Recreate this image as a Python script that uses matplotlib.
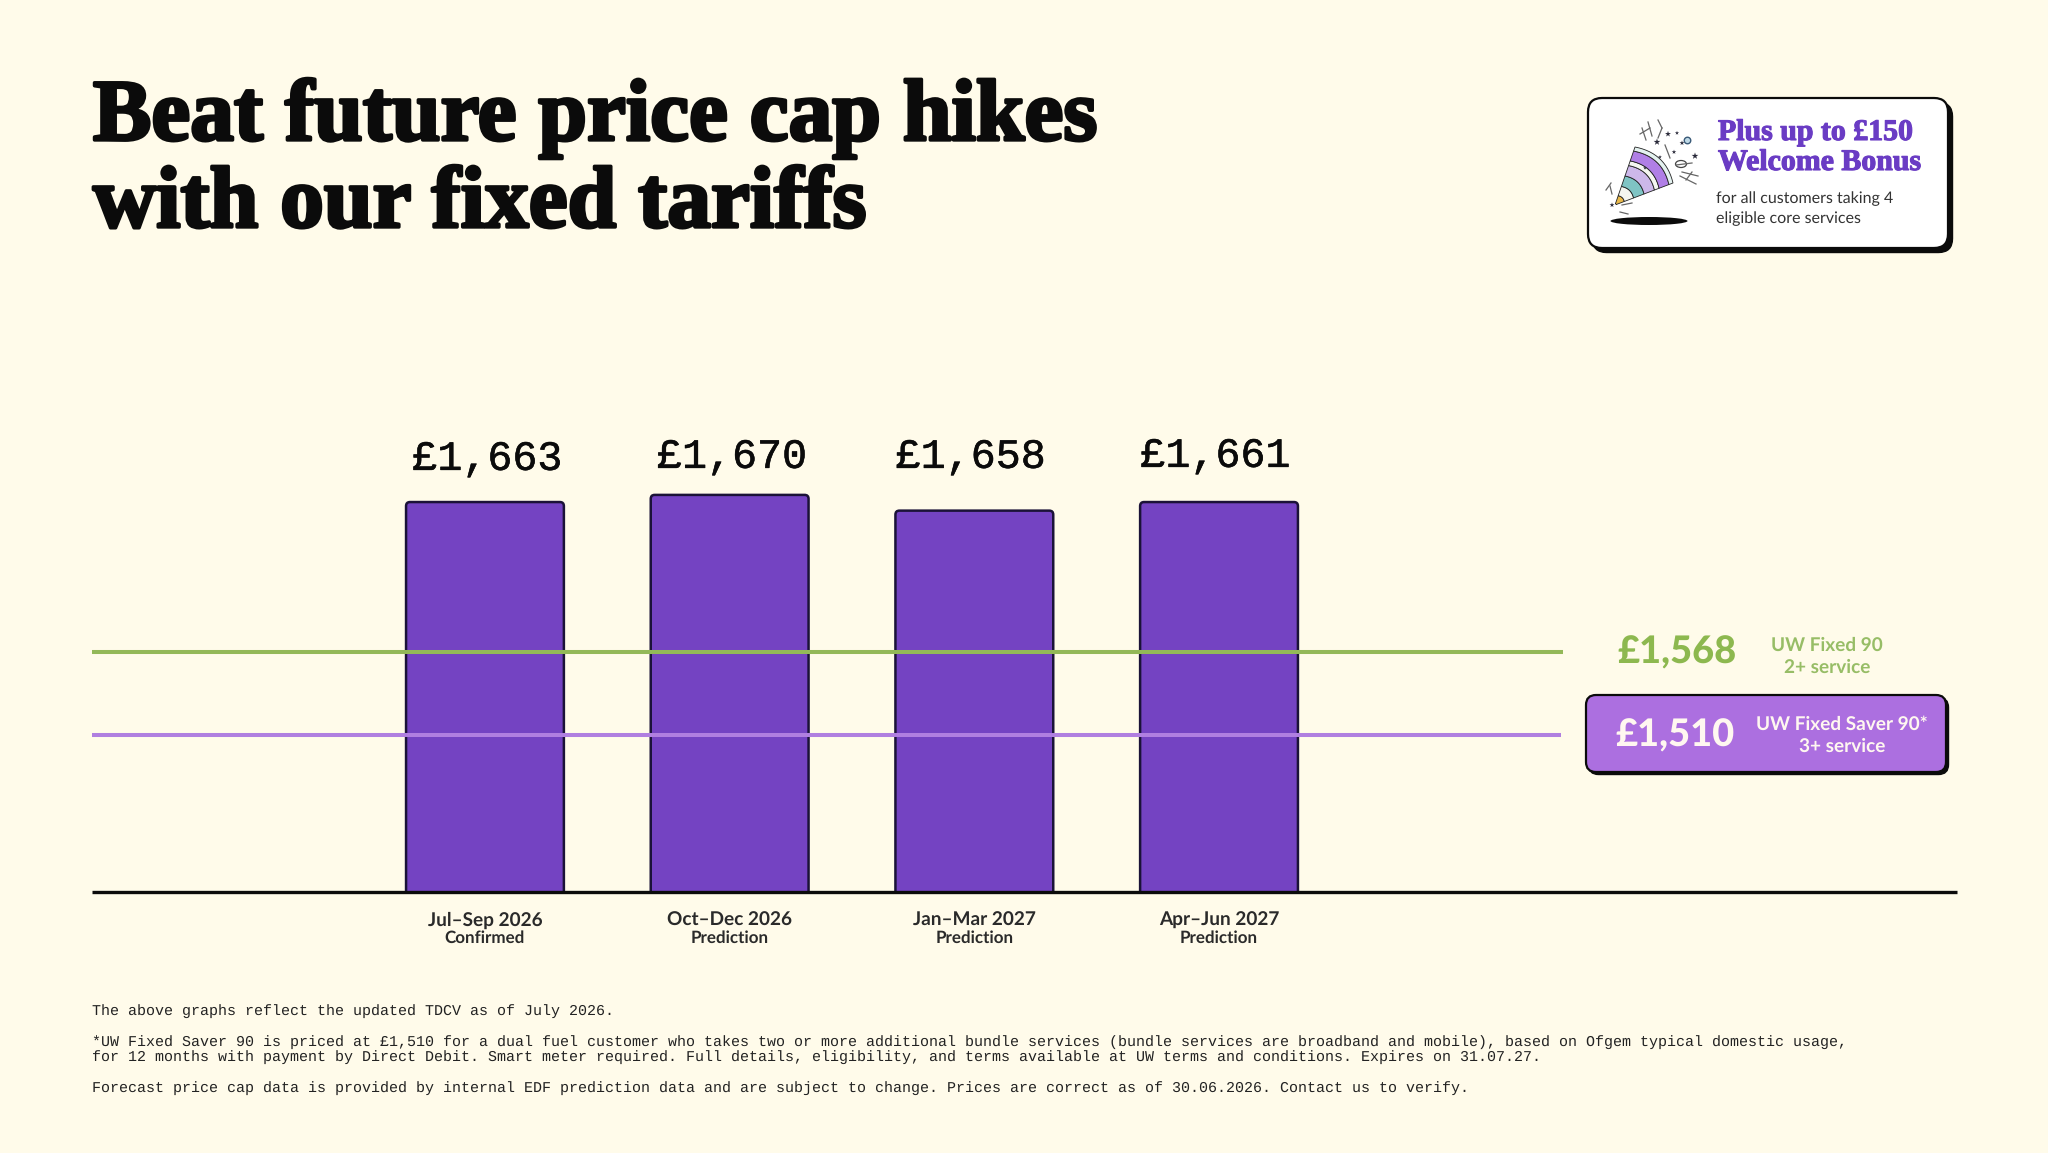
import matplotlib
matplotlib.use('Agg')
import matplotlib.pyplot as plt
import matplotlib.patheffects as pe
from matplotlib.patches import FancyBboxPatch, Ellipse, Polygon
import numpy as np

plt.rcParams['text.hinting'] = 'no_hinting'
plt.rcParams['text.hinting_factor'] = 1

# chart values
periods = ['Jul–Sep 2026', 'Oct–Dec 2026', 'Jan–Mar 2027', 'Apr–Jun 2027']
statuses = ['Confirmed', 'Prediction', 'Prediction', 'Prediction']
price_labels = ['£1,663', '£1,670', '£1,658', '£1,661']
# bar tops as drawn in the picture, the bars are not quite to scale with their labels
drawn_heights = [1672.5, 1677.5, 1666.5, 1672.5]
fixed_90 = 1568
fixed_saver_90 = 1510

BG = '#FFFBEA'
PURPLE = '#7443C2'
LILAC = '#AC6FE0'
GREEN = '#8DB84F'
INK = '#0B0B0B'

W, H = 2048, 1153
SANS = 'Lato'
MONO = 'Liberation Mono'
DISPLAY = 'Liberation Serif'

fig = plt.figure(figsize=(W / 100, H / 100), dpi=100, facecolor=BG)

# overlay in pixels for the title, cards and footnotes
page = fig.add_axes([0, 0, 1, 1], zorder=3)
page.set_xlim(0, W)
page.set_ylim(H, 0)
page.axis('off')

# chart axes, baseline at y=892px
ax = fig.add_axes([92 / W, (H - 892) / H, (1957 - 92) / W, 492 / H], zorder=1)
ax.patch.set_alpha(0)
ax.set_xlim(-1.606, 6.016)
ymin = 1400
ax.set_ylim(ymin, ymin + 492 / 1.431)
for s in ['top', 'left', 'right']:
    ax.spines[s].set_visible(False)
ax.spines['bottom'].set_linewidth(2.4)
ax.spines['bottom'].set_color(INK)
ax.spines['bottom'].set_capstyle('butt')
ax.spines['bottom'].set_zorder(5)
ax.set_yticks([])

x = list(range(len(periods)))
bars = ax.bar(x, drawn_heights, width=0.645, color=PURPLE, zorder=2)
# swap the square bars for slightly rounded ones
for r in bars:
    r.set_visible(False)
    ax.add_patch(FancyBboxPatch((r.get_x(), ymin - 10), r.get_width(), r.get_height() - ymin + 10,
                                boxstyle='round,pad=0,rounding_size=0.016', mutation_aspect=175,
                                fc=PURPLE, ec='#1B1238', lw=1.8, zorder=2))

ax.set_xticks(x, periods, fontfamily=SANS, fontweight='bold', fontsize=14, color='#2A2A2A')
ax.tick_params(axis='x', length=0, pad=14)
for i, s in zip(x, statuses):
    ax.annotate(s, xy=(i, 0), xycoords=('data', 'axes fraction'), xytext=(0, -46),
                textcoords='offset pixels', ha='center', va='center',
                fontfamily=SANS, fontweight='bold', fontsize=12, color='#2A2A2A')

label_dx = [3, 3, -3, -3]
label_y = [459, 457, 457, 456]
for i, lab, dx, yy in zip(x, price_labels, label_dx, label_y):
    ax.annotate(lab, xy=(i, 0), xycoords=('data', 'axes fraction'),
                xytext=(dx, 892 - yy), textcoords='offset pixels', ha='center', va='center',
                fontfamily=MONO, fontsize=30, color=INK,
                path_effects=[pe.withStroke(linewidth=0.4, foreground=INK)])

ax.plot([-1.606, 4.406], [fixed_90, fixed_90], color='#93B858', lw=2.9, solid_capstyle='butt', zorder=3)
ax.plot([-1.618, 4.396], [fixed_saver_90, fixed_saver_90], color='#B07FE0', lw=2.9, solid_capstyle='butt', zorder=3)

# title
for txt, yy in [('Beat future price cap hikes', 140), ('with our fixed tariffs', 227)]:
    page.text(93, yy, txt, fontfamily=DISPLAY, fontweight='bold', fontsize=63, color=INK,
              ha='left', va='baseline',
              path_effects=[pe.withStroke(linewidth=2.4, foreground=INK)])


def card(x0, y0, x1, y1, face, r=12, off=4):
    page.add_patch(FancyBboxPatch((x0 + off, y0 + off), x1 - x0, y1 - y0,
                                  boxstyle=f'round,pad=0,rounding_size={r}',
                                  fc=INK, ec=INK, lw=1))
    page.add_patch(FancyBboxPatch((x0, y0), x1 - x0, y1 - y0,
                                  boxstyle=f'round,pad=0,rounding_size={r}',
                                  fc=face, ec=INK, lw=1.6))


# welcome bonus card
card(1588, 98, 1948, 248, 'white', r=14, off=4.5)
page.text(1718, 140, 'Plus up to £150', fontfamily=DISPLAY, fontweight='bold', fontsize=21.5,
          color='#6A3CC4', va='baseline',
          path_effects=[pe.withStroke(linewidth=0.8, foreground='#6A3CC4')])
page.text(1718, 170, 'Welcome Bonus', fontfamily=DISPLAY, fontweight='bold', fontsize=21.5,
          color='#6A3CC4', va='baseline',
          path_effects=[pe.withStroke(linewidth=0.8, foreground='#6A3CC4')])
page.text(1716, 203, 'for all customers taking 4', fontfamily=SANS, fontsize=11.5,
          color='#333333', va='baseline')
page.text(1716, 223, 'eligible core services', fontfamily=SANS, fontsize=11.5,
          color='#333333', va='baseline')

# party popper
apex = np.array([1615.0, 205.0])
mouth_a = np.array([1635.0, 147.0])
mouth_b = np.array([1673.0, 183.0])
bulge = np.array([6.0, -6.0])


def arc(f, n=16):
    t = np.linspace(0, 1, n)[:, None]
    a = apex + (mouth_a - apex) * f
    b = apex + (mouth_b - apex) * f
    return a + (b - a) * t + bulge * f * 4 * t * (1 - t)


def band(f0, f1, colour):
    pts = np.vstack([arc(f0), arc(f1)[::-1]])
    page.add_patch(Polygon(pts, closed=True, fc=colour, ec='#222222', lw=0.6))


band(0.02, 0.16, '#E8B84A')
band(0.16, 0.32, '#F4F6F0')
band(0.32, 0.50, '#7FC4C4')
band(0.50, 0.68, '#CDB8EA')
band(0.68, 0.76, '#F4F6F0')
band(0.76, 0.93, '#B07FE6')
band(0.93, 1.0, '#E4F2F0')
page.add_patch(Ellipse((1649, 221), 77, 8, fc=INK, ec='none'))

conf_x = [1657, 1668, 1677, 1682, 1695, 1612, 1660, 1674, 1645]
conf_y = [142, 134, 133, 143, 156, 205, 157, 152, 168]
conf_s = [26, 20, 10, 14, 26, 14, 8, 12, 8]
page.scatter(conf_x, conf_y, s=conf_s, c='#2A2A3A', marker='*', linewidths=0)
page.scatter([1687], [140], s=22, facecolors='#BFD9E6', edgecolors='#3A5A78', linewidths=1)
streamers = [
    ((1642, 128), (1646, 140)), ((1648, 122), (1652, 136)), ((1640, 134), (1650, 128)),
    ((1658, 120), (1662, 128)), ((1662, 128), (1658, 138)), ((1665, 145), (1670, 158)),
    ((1680, 176), (1696, 184)), ((1682, 172), (1698, 176)), ((1686, 180), (1692, 172)),
    ((1676, 165), (1692, 163)), ((1610, 186), (1612, 194)), ((1606, 190), (1611, 183)),
    ((1622, 205), (1632, 203)), ((1620, 212), (1628, 214)),
]
for p in streamers:
    page.plot(*zip(*p), color='#666666', lw=0.9)
page.add_patch(Ellipse((1681, 164), 11, 7, fc='none', ec='#444444', lw=0.9))

# tariff labels
page.text(1617, 664, '£1,568', fontfamily=SANS, fontweight='black', fontsize=27.5, color=GREEN, va='baseline')
page.text(1827, 645, 'UW Fixed 90', fontfamily=SANS, fontweight='bold', fontsize=13.6, color='#97BD66',
          ha='center', va='center')
page.text(1827, 667, '2+ service', fontfamily=SANS, fontweight='bold', fontsize=13.6, color='#97BD66',
          ha='center', va='center')
card(1586, 695, 1946, 772, LILAC, r=10, off=2.5)
page.text(1615, 747, '£1,510', fontfamily=SANS, fontweight='black', fontsize=27.5, color='#FFF7F0', va='baseline')
page.text(1842, 724, 'UW Fixed Saver 90*', fontfamily=SANS, fontweight='bold', fontsize=13.8, color='#FFF7F0',
          ha='center', va='center')
page.text(1842, 746, '3+ service', fontfamily=SANS, fontweight='bold', fontsize=13.8, color='#FFF7F0',
          ha='center', va='center')

# footnotes
notes = [
    (1011, 'The above graphs reflect the updated TDCV as of July 2026.'),
    (1042, '*UW Fixed Saver 90 is priced at £1,510 for a dual fuel customer who takes two or more additional '
           'bundle services (bundle services are broadband and mobile), based on Ofgem typical domestic usage,'),
    (1057, 'for 12 months with payment by Direct Debit. Smart meter required. Full details, eligibility, and '
           'terms available at UW terms and conditions. Expires on 31.07.27.'),
    (1088, 'Forecast price cap data is provided by internal EDF prediction data and are subject to change. '
           'Prices are correct as of 30.06.2026. Contact us to verify.'),
]
for yy, txt in notes:
    page.text(92, yy, txt, fontfamily=MONO, fontsize=10.9, color='#222222', va='center')

fig.savefig('out.png', dpi=100, facecolor=BG)
